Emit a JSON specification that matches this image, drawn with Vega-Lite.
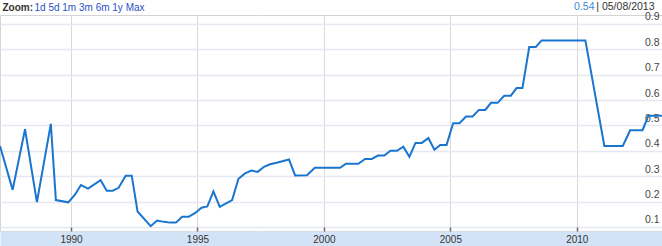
{
  "$schema": "https://vega.github.io/schema/vega-lite/v6.json",
  "width": 662,
  "height": 216,
  "autosize": {"type": "none"},
  "padding": {"top": 15, "left": 0, "right": 0, "bottom": 15},
  "background": "white",
  "config": {
    "font": "Liberation Sans",
    "view": {"stroke": "#d4d4d4"}
  },
  "data": {
    "values": [
      {"year": 1987.19, "v": 0.419}, {"year": 1987.69, "v": 0.246}, {"year": 1988.18, "v": 0.485},
      {"year": 1988.65, "v": 0.198}, {"year": 1989.2, "v": 0.506}, {"year": 1989.4, "v": 0.206},
      {"year": 1989.89, "v": 0.197}, {"year": 1990.16, "v": 0.228}, {"year": 1990.39, "v": 0.265},
      {"year": 1990.67, "v": 0.251}, {"year": 1991.17, "v": 0.284}, {"year": 1991.41, "v": 0.243},
      {"year": 1991.65, "v": 0.243}, {"year": 1991.88, "v": 0.254}, {"year": 1992.16, "v": 0.302},
      {"year": 1992.4, "v": 0.302}, {"year": 1992.63, "v": 0.161}, {"year": 1993.15, "v": 0.103},
      {"year": 1993.4, "v": 0.125}, {"year": 1993.68, "v": 0.12}, {"year": 1993.91, "v": 0.117},
      {"year": 1994.15, "v": 0.117}, {"year": 1994.39, "v": 0.14}, {"year": 1994.65, "v": 0.14},
      {"year": 1994.91, "v": 0.155}, {"year": 1995.16, "v": 0.176}, {"year": 1995.39, "v": 0.181},
      {"year": 1995.63, "v": 0.24}, {"year": 1995.88, "v": 0.179}, {"year": 1996.37, "v": 0.206},
      {"year": 1996.62, "v": 0.29}, {"year": 1996.88, "v": 0.311}, {"year": 1997.13, "v": 0.322},
      {"year": 1997.38, "v": 0.317}, {"year": 1997.63, "v": 0.337}, {"year": 1997.87, "v": 0.347},
      {"year": 1998.13, "v": 0.353}, {"year": 1998.62, "v": 0.366}, {"year": 1998.86, "v": 0.303},
      {"year": 1999.33, "v": 0.304}, {"year": 1999.64, "v": 0.333}, {"year": 2000.64, "v": 0.333},
      {"year": 2000.87, "v": 0.349}, {"year": 2001.36, "v": 0.349}, {"year": 2001.63, "v": 0.368},
      {"year": 2001.89, "v": 0.368}, {"year": 2002.14, "v": 0.381}, {"year": 2002.39, "v": 0.381},
      {"year": 2002.63, "v": 0.4}, {"year": 2002.89, "v": 0.4}, {"year": 2003.14, "v": 0.416},
      {"year": 2003.38, "v": 0.376}, {"year": 2003.62, "v": 0.431}, {"year": 2003.87, "v": 0.431},
      {"year": 2004.13, "v": 0.45}, {"year": 2004.37, "v": 0.404}, {"year": 2004.6, "v": 0.423},
      {"year": 2004.85, "v": 0.423}, {"year": 2005.11, "v": 0.509}, {"year": 2005.36, "v": 0.509},
      {"year": 2005.62, "v": 0.535}, {"year": 2005.88, "v": 0.535}, {"year": 2006.13, "v": 0.561},
      {"year": 2006.38, "v": 0.561}, {"year": 2006.61, "v": 0.589}, {"year": 2006.87, "v": 0.589},
      {"year": 2007.13, "v": 0.617}, {"year": 2007.39, "v": 0.617}, {"year": 2007.62, "v": 0.647},
      {"year": 2007.85, "v": 0.647}, {"year": 2008.12, "v": 0.809}, {"year": 2008.38, "v": 0.809},
      {"year": 2008.61, "v": 0.835}, {"year": 2010.34, "v": 0.835}, {"year": 2011.09, "v": 0.419},
      {"year": 2011.82, "v": 0.419}, {"year": 2012.11, "v": 0.481}, {"year": 2012.6, "v": 0.481},
      {"year": 2012.83, "v": 0.538}, {"year": 2013.37, "v": 0.538}
    ]
  },
  "layer": [
    {
      "mark": {"type": "line", "opacity": 0},
      "encoding": {
        "x": {
          "field": "year", "type": "quantitative",
          "scale": {"domain": [1987.19, 2013.37], "nice": false, "zero": false},
          "axis": {
            "orient": "bottom", "offset": 7.5, "values": [1990, 1995, 2000, 2005, 2010],
            "domain": true, "domainWidth": 15, "domainColor": "#d3e3f7",
            "ticks": false, "tickSize": 0, "grid": false, "labels": false,
            "title": "1d 5d 1m 3m 6m 1y Max", "titleX": 34, "titleY": -231.5, "titleAlign": "left",
            "titleBaseline": "middle", "titleFontSize": 10, "titleFontWeight": "normal", "titleColor": "#2c50c8"
          }
        },
        "y": {
          "field": "v", "type": "quantitative",
          "scale": {"domain": [0.084, 0.935], "nice": false, "zero": false},
          "axis": {
            "orient": "left", "domain": false, "labels": false, "ticks": false, "grid": false,
            "title": "0.54", "titleAngle": 0, "titleX": 594, "titleY": -9, "titleAlign": "right",
            "titleBaseline": "middle", "titleFontSize": 10.5, "titleFontWeight": "normal", "titleColor": "#3b8ad8"
          }
        }
      }
    },
    {
      "mark": {"type": "line", "color": "#1a75cf", "strokeWidth": 2},
      "encoding": {
        "x": {
          "field": "year", "type": "quantitative",
          "axis": {
            "orient": "bottom", "values": [1990, 1995, 2000, 2005, 2010], "format": "d",
            "domain": false, "grid": true, "gridColor": "#d9d9d9", "gridWidth": 1,
            "ticks": true, "tickSize": -4, "tickColor": "#666666", "tickWidth": 1.5,
            "labels": true, "labelPadding": 12, "labelBaseline": "middle", "labelFontSize": 10,
            "labelColor": "#333333", "labelFlush": false,
            "title": "Zoom:", "titleX": 2, "titleY": -224, "titleAlign": "left", "titleBaseline": "middle",
            "titleFontSize": 10, "titleFontWeight": "bold", "titleColor": "#333333"
          }
        },
        "y": {
          "field": "v", "type": "quantitative",
          "axis": {
            "orient": "right", "values": [0.1, 0.2, 0.3, 0.4, 0.5, 0.6, 0.7, 0.8, 0.9], "format": ".1f",
            "domain": false, "ticks": false, "tickSize": 0, "grid": true, "gridColor": "#e6e8f1", "gridWidth": 1.5,
            "labelAlign": "right", "labelPadding": -3, "labelBaseline": "bottom", "labelOffset": -2,
            "labelFontSize": 10.5, "labelColor": "#444444", "labelFlush": false,
            "title": "| 05/08/2013", "titleAngle": 0, "titleX": -8, "titleY": -9, "titleAlign": "right",
            "titleBaseline": "middle", "titleFontSize": 10.5, "titleFontWeight": "normal", "titleColor": "#333333"
          }
        }
      }
    }
  ],
  "resolve": {"axis": {"x": "independent", "y": "independent"}}
}
